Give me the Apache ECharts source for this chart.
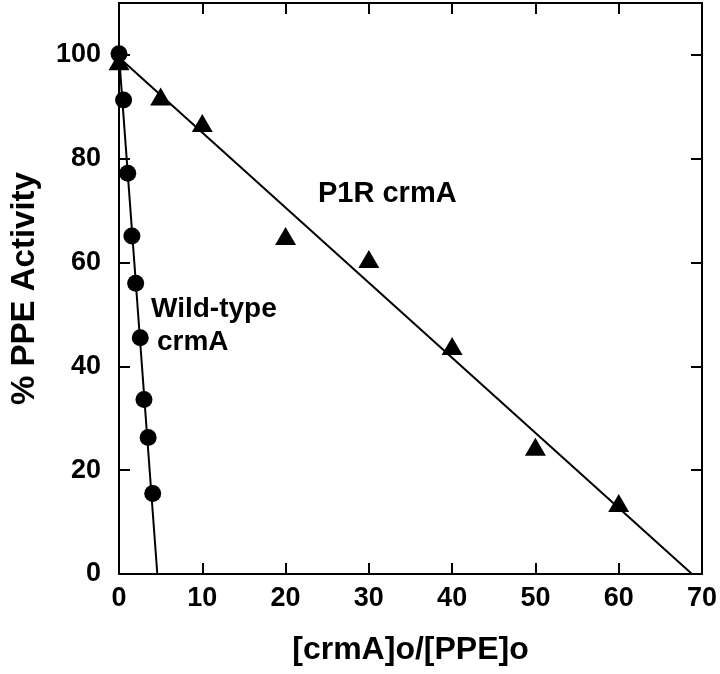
<!DOCTYPE html>
<html>
<head>
<meta charset="utf-8">
<script src="https://cdn.jsdelivr.net/npm/echarts@6/dist/echarts.min.js"></script>
<style>
html,body{margin:0;padding:0;background:#fff;}
#chart{width:720px;height:674px;}
</style>
</head>
<body>
<div id="chart"></div>
<script>
// Wild-type crmA (circles)
const wtX = [0, 0.55, 1.05, 1.55, 2.0, 2.55, 3.0, 3.5, 4.05];
const wtY = [100.2, 91.3, 77.2, 65.1, 56.0, 45.5, 33.6, 26.3, 15.5];
// Wild-type fitted line endpoints
const wtFitX = [0, 4.6];
const wtFitY = [100, 0];
// P1R crmA (triangles)
const p1rX = [0, 5, 10, 20, 30, 40, 50, 60];
const p1rY = [98.8, 92.0, 86.9, 65.1, 60.7, 43.9, 24.5, 13.7];
// P1R fitted line endpoints
const p1rFitX = [0, 68.8];
const p1rFitY = [99.5, 0];
// axis ticks
const xTicks = [0, 10, 20, 30, 40, 50, 60, 70];
const yTicks = [0, 20, 40, 60, 80, 100];

const zip = (a, b) => a.map((v, i) => [v, b[i]]);
const FONT = '"Liberation Sans", Arial, Helvetica, sans-serif';
const axisLine = {show: true, onZero: false, lineStyle: {color: '#000', width: 2}};
const axisTick = {show: true, inside: true, length: 11, lineStyle: {color: '#000', width: 2}};

const chart = echarts.init(document.getElementById('chart'), null, {renderer: 'canvas'});
chart.setOption({
  animation: false,
  backgroundColor: '#fff',
  grid: {left: 109, right: 16, top: 3, bottom: 100, containLabel: false},
  xAxis: [{
    type: 'value', min: 0, max: 70, interval: 10, position: 'bottom',
    axisLine, axisTick, splitLine: {show: false},
    axisLabel: {color: '#000', fontSize: 27, fontWeight: 'bold', fontFamily: FONT, margin: 11,
      formatter: v => xTicks.includes(v) ? String(v) : ''},
    name: '[crmA]o/[PPE]o', nameLocation: 'middle', nameGap: 60,
    nameTextStyle: {color: '#000', fontSize: 32, fontWeight: 'bold', fontFamily: FONT}
  }, {
    type: 'value', min: 0, max: 70, interval: 10, position: 'top',
    axisLine, axisTick, axisLabel: {show: false}, splitLine: {show: false}
  }],
  yAxis: [{
    type: 'value', min: 0, max: 110, interval: 20, position: 'left',
    axisLine, axisTick, splitLine: {show: false},
    axisLabel: {color: '#000', fontSize: 27, fontWeight: 'bold', fontFamily: FONT, margin: 18,
      showMaxLabel: false,
      formatter: v => yTicks.includes(v) ? String(v) : ''},
    name: '% PPE Activity', nameLocation: 'middle', nameGap: 78,
    nameTextStyle: {color: '#000', fontSize: 33, fontWeight: 'bold', fontFamily: FONT}
  }, {
    type: 'value', min: 0, max: 110, interval: 20, position: 'right',
    axisLine, axisTick, axisLabel: {show: false}, splitLine: {show: false}
  }],
  graphic: [
    {type: 'text', left: 318, top: 179, style: {text: 'P1R crmA', fill: '#000', font: 'bold 29px ' + FONT}},
    {type: 'text', left: 151, top: 295, style: {text: 'Wild-type', fill: '#000', font: 'bold 28px ' + FONT}},
    {type: 'text', left: 157, top: 328, style: {text: 'crmA', fill: '#000', font: 'bold 28px ' + FONT}}
  ],
  series: [
    {type: 'line', data: zip(wtFitX, wtFitY), symbol: 'none', lineStyle: {color: '#000', width: 2}, z: 2},
    {type: 'line', data: zip(p1rFitX, p1rFitY), symbol: 'none', lineStyle: {color: '#000', width: 2}, z: 2},
    {type: 'scatter', data: zip(wtX, wtY), symbol: 'circle', symbolSize: 17, itemStyle: {color: '#000', opacity: 1}, z: 3},
    {type: 'scatter', data: zip(p1rX, p1rY), symbol: 'triangle', symbolSize: [21, 18], itemStyle: {color: '#000', opacity: 1}, z: 3}
  ]
});
</script>
</body>
</html>
